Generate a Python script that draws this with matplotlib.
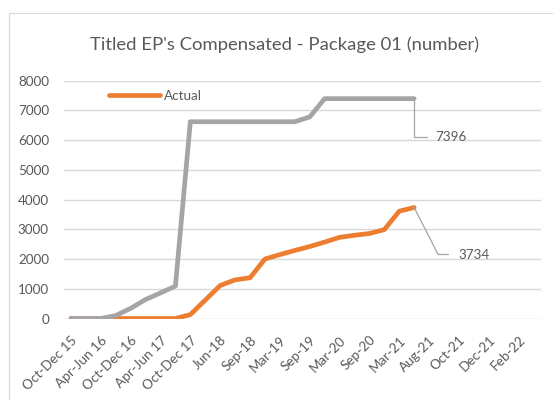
import matplotlib
matplotlib.use("Agg")
import matplotlib.pyplot as plt
from matplotlib.patches import Rectangle
import numpy as np

# ---- data ----
categories = ["Oct-Dec 15", "Jan-Mar 16", "Apr-Jun 16", "Jul-Sep 16", "Oct-Dec 16", "Jan-Mar 17",
              "Apr-Jun 17", "Jul-Sep 17", "Oct-Dec 17", "Mar-18", "Jun-18", "Jul-18",
              "Sep-18", "Dec-18", "Mar-19", "Jun-19", "Sep-19", "Dec-19", "Mar-20", "Jun-20",
              "Sep-20", "Dec-20", "Mar-21", "Jun-21", "Aug-21", "Sep-21", "Oct-21", "Nov-21",
              "Dec-21", "Jan-22", "Feb-22", "Mar-22"]
label_step = 2
actual = [0, 0, 0, 0, 0, 0, 0, 0, 130, 620, 1110, 1300, 1370, 2000, 2150, 2290,
          2420, 2570, 2730, 2800, 2860, 2990, 3610, 3734]
target = [0, 0, 0, 100, 340, 640, 860, 1090, 6620, 6620, 6620, 6620, 6620, 6620, 6620, 6620,
          6780, 7396, 7396, 7396, 7396, 7396, 7396, 7396]
yticks = [0, 1000, 2000, 3000, 4000, 5000, 6000, 7000, 8000]
title = "Titled EP's Compensated - Package 01 (number)"

ORANGE = "#ED7D31"
GREY = "#A5A5A5"
TXT = "#595959"
GRID = "#D9D9D9"

plt.rcParams['font.family'] = ['Lato', 'DejaVu Sans']

W, H = 553, 400
fig = plt.figure(figsize=(W / 100, H / 100), dpi=100)
fig.patch.set_facecolor("white")

# chart border (cropped at right/bottom)
fig.patches.append(Rectangle((9 / W, -0.1), 1.2, (400 - 13.3) / H + 0.1,
                             transform=fig.transFigure, fill=False,
                             edgecolor=GRID, lw=0.9))

ax = fig.add_axes([63.5 / W, 1 - 318.5 / H, (541 - 63.5) / W, (318.5 - 80.7) / H])
x_all = np.arange(len(categories))
xa = x_all[:len(actual)]
xt = x_all[:len(target)]

ax.plot(xa, actual, color=ORANGE, lw=3.4, solid_capstyle='round', solid_joinstyle='round',
        label="Actual", zorder=3)
ax.plot(xt, target, color=GREY, lw=3.4, solid_capstyle='round', solid_joinstyle='round',
        label="_nolegend_", zorder=4)

ax.set_xlim(-0.5, len(categories) - 0.5)
ax.set_ylim(yticks[0], yticks[-1])
ax.set_yticks(yticks)
ax.set_yticklabels([str(v) for v in yticks])
ax.set_xticks(x_all[::label_step])
ax.set_xticklabels(categories[::label_step], rotation=45, ha='right', va='top',
                   rotation_mode='anchor')

for s in ax.spines.values():
    s.set_visible(False)
ax.grid(axis='y', color=GRID, lw=1.0)
ax.set_axisbelow(True)
ax.tick_params(axis='both', length=0, colors=TXT, labelsize=9.7)
ax.tick_params(axis='y', pad=10.5)
ax.tick_params(axis='x', pad=11)

# data labels with leader lines
last_t = len(target) - 1
ax.annotate(f"{target[last_t]}", xy=(xt[last_t], target[last_t]), xytext=(21, -38),
            textcoords='offset pixels', ha='left', va='center', color=TXT, fontsize=9.7,
            arrowprops=dict(arrowstyle='-', color=GREY, lw=0.9, relpos=(0, 0.5),
                            shrinkA=4, shrinkB=0,
                            connectionstyle='angle,angleA=0,angleB=90,rad=0'))
last_a = len(actual) - 1
ax.annotate(f"{actual[last_a]}", xy=(xa[last_a], actual[last_a]), xytext=(44, -47),
            textcoords='offset pixels', ha='left', va='center', color=TXT, fontsize=9.7,
            arrowprops=dict(arrowstyle='-', color=GREY, lw=0.9, relpos=(0, 0.5),
                            shrinkA=5, shrinkB=0,
                            connectionstyle='angle,angleA=0,angleB=-63,rad=0'))

# legend
fs = 9.7
fpx = fs * 100 / 72
leg = fig.legend(loc='center left', bbox_to_anchor=(109 / W, 1 - 95.7 / H), frameon=False,
                 fontsize=fs, borderpad=0, borderaxespad=0,
                 handlelength=51 / fpx, handletextpad=4 / fpx, labelcolor=TXT)
for h in leg.get_lines():
    h.set_solid_capstyle('round')

fig.text(284.5 / W, 1 - 45 / H, title, ha='center', va='center', fontsize=13.3, color=TXT)

fig.savefig("out.png", dpi=100)
